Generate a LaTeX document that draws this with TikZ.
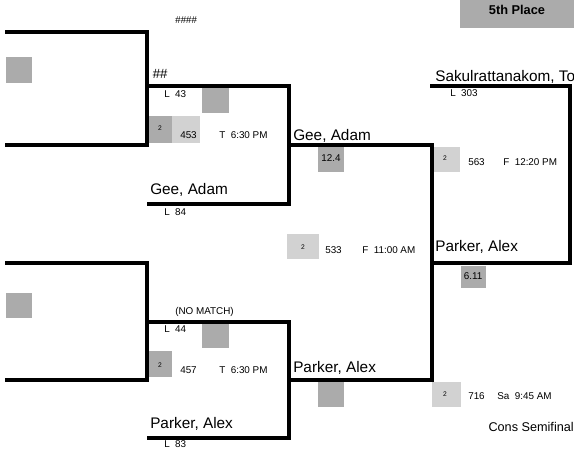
\documentclass[tikz,border=0pt]{standalone}
\usepackage{fontspec}
\setmainfont{Liberation Sans}
\usepackage{xcolor}
\usepackage{tikz}
\usetikzlibrary{positioning}
\definecolor{boxdark}{HTML}{ABABAB}
\definecolor{boxlight}{HTML}{D2D2D2}
\tikzset{
  bline/.style={line width=2.6pt, line join=miter},
  namelbl/.style={anchor=base west, inner sep=0pt, font=\fontsize{11.5}{13}\selectfont},
  smalllbl/.style={anchor=west, inner sep=0pt, font=\fontsize{7.4}{8}\selectfont},
  tinylbl/.style={inner sep=0pt, font=\fontsize{5}{6}\selectfont},
}

\begin{document}
\begin{tikzpicture}[x=0.75pt, y=-0.75pt]
    \useasboundingbox (0,0) rectangle (574,452);

    % Shaded boxes
    \fill[boxdark] (460,0) rectangle (574,28);
    \fill[boxdark] (6,57) rectangle (32,83);
    \fill[boxdark] (6,293) rectangle (32,318);
    \fill[boxdark] (202,88) rectangle (229,113);
    \fill[boxdark] (202,323) rectangle (229,348);
    \fill[boxdark] (148,116) rectangle (172,143); \fill[boxlight] (172,116) rectangle (200,143);
    \fill[boxdark] (148,351) rectangle (172,377);
    \fill[boxdark] (318,147) rectangle (344,172);
    \fill[boxdark] (318,382) rectangle (344,407);
    \fill[boxlight] (433,147) rectangle (460,172);
    \fill[boxlight] (287,234) rectangle (319,259);
    \fill[boxlight] (432,382) rectangle (461,407);
    \fill[boxdark] (461,266) rectangle (486,288);

    % Bracket lines
    \draw[bline] (5,32) -- (147,32) -- (147,145) -- (5,145);
    \draw[bline] (147,86) -- (289,86) -- (289,204) -- (147,204);
    \draw[bline] (5,263) -- (147,263) -- (147,380) -- (5,380);
    \draw[bline] (147,322) -- (289,322) -- (289,438) -- (147,438);
    \draw[bline] (289,145) -- (432,145) -- (432,380) -- (289,380);
    \draw[bline] (430,86) -- (570,86) -- (570,263) -- (432,263);

    % Headers
    \node[inner sep=0pt, font=\itshape\fontsize{7.4}{8}\selectfont] (hdrfour) at (186,20) {\#\#\#\#};
    \node[inner sep=0pt, font=\itshape\fontsize{10}{11}\selectfont] (hdrtwo) at (160,74) {\#\#};
    \node[inner sep=0pt, font=\bfseries\fontsize{9.6}{11}\selectfont] (place) at (517,10) {5th Place};

    % Names
    \node[namelbl] (geea) at (293,141) {Gee, Adam};
    \node[namelbl] (geeb) at (150,195) {Gee, Adam};
    \node[namelbl] (sakul) at (435,82) {Sakulrattanakom, To};
    \node[namelbl] (parkera) at (435,252) {Parker, Alex};
    \node[namelbl] (parkerb) at (293,372) {Parker, Alex};
    \node[namelbl] (parkerc) at (150,428) {Parker, Alex};

    % Loser labels
    \node[smalllbl] (lfortythree) at (164,94) {L~~43};
    \node[smalllbl] (leightyfour) at (164,212) {L~~84};
    \node[smalllbl] (lthreeohthree) at (450,93) {L~~303};
    \node[smalllbl] (lfortyfour) at (164,329) {L~~44};
    \node[smalllbl] (leightythree) at (164,444) {L~~83};
    \node[smalllbl] (nomatch) at (175,312) {(NO MATCH)};

    % Bouts
    \node[tinylbl] (mata) at (160,128) {2};
    \node[smalllbl] (bouta) at (180,135) {453};
    \node[smalllbl] (timea) at (219,135) {T~~6:30 PM};
    \node[tinylbl] (matb) at (160,365) {2};
    \node[smalllbl] (boutb) at (180,370) {457};
    \node[smalllbl] (timeb) at (219,370) {T~~6:30 PM};
    \node[tinylbl] (matc) at (303,247) {2};
    \node[smalllbl] (boutc) at (325,250) {533};
    \node[smalllbl] (timec) at (362,250) {F~~11:00 AM};
    \node[tinylbl] (matd) at (445,158) {2};
    \node[smalllbl] (boutd) at (468,162) {563};
    \node[smalllbl] (timed) at (503,162) {F~~12:20 PM};
    \node[tinylbl] (mate) at (445,394) {2};
    \node[smalllbl] (boute) at (468,396) {716};
    \node[smalllbl] (timee) at (497,396) {Sa~~9:45 AM};

    % Scores
    \node[smalllbl, anchor=center] (scorea) at (331,158) {12.4};
    \node[smalllbl, anchor=center] (scoreb) at (473,276) {6.11};

    \node[inner sep=0pt, anchor=east, font=\fontsize{9.5}{11}\selectfont] (round) at (574,427) {Cons Semifinal};
\end{tikzpicture}
\end{document}
